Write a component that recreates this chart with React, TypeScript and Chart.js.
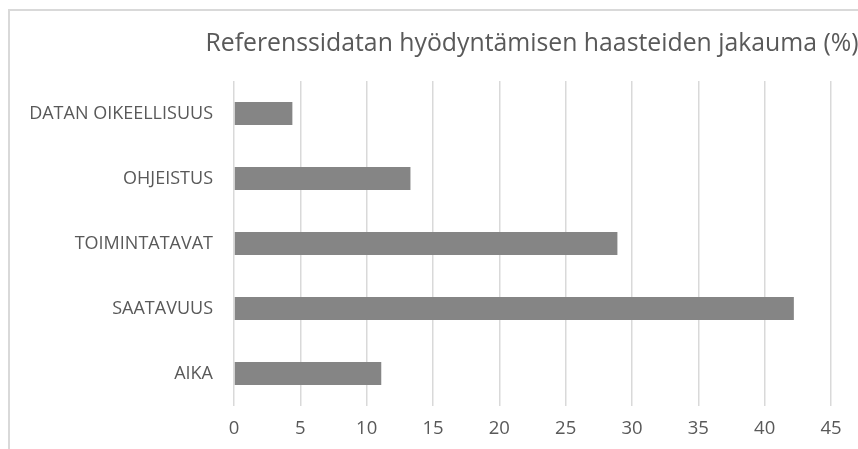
import React, { useEffect, useRef } from "react";
import { Chart, registerables } from "chart.js";

Chart.register(...registerables);

const categories = ["DATAN OIKEELLISUUS", "OHJEISTUS", "TOIMINTATAVAT", "SAATAVUUS", "AIKA"];
const values = [4.4, 13.3, 28.9, 42.2, 11.1];
const titleText = "Referenssidatan hyödyntämisen haasteiden jakauma (%)";
const xMin = 0;
const xMax = 45;
const xStep = 5;

const FONT = "'Open Sans', sans-serif";
const TEXT = "#595959";

const titlePlugin = {
  id: "customTitle",
  afterDraw(chart: any) {
    const ctx = chart.ctx;
    ctx.save();
    ctx.font = `24.8px ${FONT}`;
    ctx.fillStyle = TEXT;
    ctx.textAlign = "center";
    ctx.textBaseline = "alphabetic";
    ctx.fillText(titleText, 532, 51);
    ctx.restore();
  },
};

export default function App() {
  const ref = useRef<HTMLCanvasElement | null>(null);
  useEffect(() => {
    if (!ref.current) return;
    const chart = new Chart(ref.current, {
      type: "bar",
      data: {
        labels: categories,
        datasets: [
          {
            data: values,
            backgroundColor: "#858585",
            borderWidth: 0,
            barPercentage: 0.355,
            categoryPercentage: 1,
          },
        ],
      },
      options: {
        indexAxis: "y",
        responsive: false,
        animation: false,
        devicePixelRatio: 1,
        layout: { padding: { left: 0, right: 27, top: 81, bottom: 0 } },
        plugins: { legend: { display: false }, title: { display: false }, tooltip: { enabled: false } },
        scales: {
          x: {
            min: xMin,
            max: xMax,
            ticks: { stepSize: xStep, color: TEXT, font: { family: FONT, size: 18.5 }, padding: 12 },
            grid: { color: "#d9d9d9", lineWidth: 1.5, drawTicks: false },
            border: { display: false },
            afterFit(scale: any) {
              scale.height = 43;
            },
          },
          y: {
            ticks: { color: TEXT, font: { family: FONT, size: 18 }, padding: 21 },
            grid: { display: false, drawTicks: false },
            border: { display: false },
            afterFit(scale: any) {
              scale.width = 234;
            },
          },
        },
      },
      plugins: [titlePlugin],
    } as any);
    return () => chart.destroy();
  }, []);
  return (
    <div style={{ position: "fixed", left: 0, top: 0, width: 858, height: 449, overflow: "hidden", background: "#fff" }}>
      <div
        style={{
          position: "absolute",
          left: 8,
          top: 9,
          width: 1000,
          height: 1000,
          border: "2px solid #d9d9d9",
          boxSizing: "border-box",
        }}
      />
      <canvas ref={ref} width={858} height={449} style={{ position: "absolute", left: 0, top: 0, width: 858, height: 449 }} />
    </div>
  );
}
